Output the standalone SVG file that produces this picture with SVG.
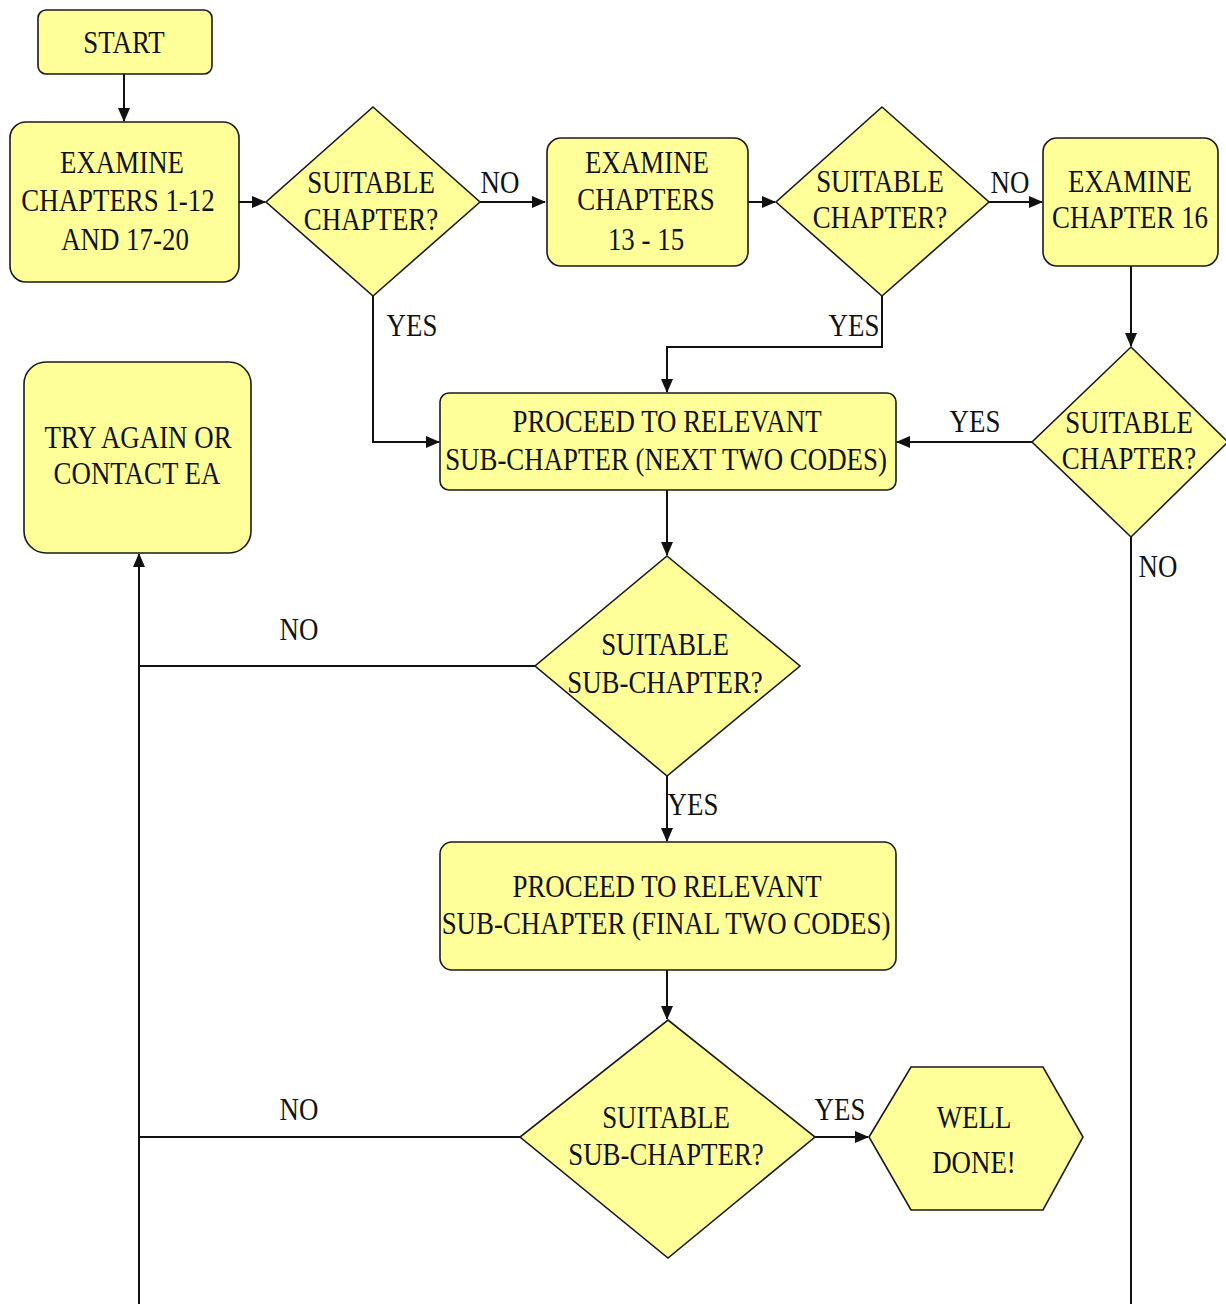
<svg xmlns="http://www.w3.org/2000/svg" width="1226" height="1304" viewBox="0 0 1226 1304">
<style>
.n{fill:#FFFF99;stroke:#1a1a1a;stroke-width:1.6}
.t{font-size:32px;fill:#111;text-anchor:middle}
.c{fill:none;stroke:#111;stroke-width:2}
</style>
<defs>
<marker id="ah" markerUnits="userSpaceOnUse" markerWidth="14" markerHeight="12" refX="13" refY="6" orient="auto">
<path d="M0,0 L14,6 L0,12 Z" fill="#111"/>
</marker>
</defs>
<rect width="1226" height="1304" fill="#fff"/>
<g font-family="'Liberation Serif', 'DejaVu Serif', serif">
<g id="connectors">
<path class="c" d="M124,74 V121" marker-end="url(#ah)"/>
<path class="c" d="M239,202 H265" marker-end="url(#ah)"/>
<path class="c" d="M480,202 H545" marker-end="url(#ah)"/>
<path class="c" d="M748,202 H775" marker-end="url(#ah)"/>
<path class="c" d="M989,202 H1042" marker-end="url(#ah)"/>
<path class="c" d="M1131,266 V346" marker-end="url(#ah)"/>
<path class="c" d="M373,296 V442 H439" marker-end="url(#ah)"/>
<path class="c" d="M882,296 V347 H667 V392" marker-end="url(#ah)"/>
<path class="c" d="M1032,442 H897" marker-end="url(#ah)"/>
<path class="c" d="M1131,537 V1304"/>
<path class="c" d="M667,490 V555" marker-end="url(#ah)"/>
<path class="c" d="M535,666 H139"/>
<path class="c" d="M139,1304 V554" marker-end="url(#ah)"/>
<path class="c" d="M667,776 V841" marker-end="url(#ah)"/>
<path class="c" d="M667,970 V1019" marker-end="url(#ah)"/>
<path class="c" d="M520,1137 H139"/>
<path class="c" d="M815,1137 H868" marker-end="url(#ah)"/>
<g id="labels">
<text class="t" transform="translate(500 193) scale(0.84 1)">NO</text>
<text class="t" transform="translate(1010 193) scale(0.84 1)">NO</text>
<text class="t" transform="translate(412 336) scale(0.84 1)">YES</text>
<text class="t" transform="translate(854 336) scale(0.84 1)">YES</text>
<text class="t" transform="translate(975 432) scale(0.84 1)">YES</text>
<text class="t" transform="translate(1158 577) scale(0.84 1)">NO</text>
<text class="t" transform="translate(299 640) scale(0.84 1)">NO</text>
<text class="t" transform="translate(693 815) scale(0.84 1)">YES</text>
<text class="t" transform="translate(299 1120) scale(0.84 1)">NO</text>
<text class="t" transform="translate(840 1120) scale(0.84 1)">YES</text>
</g>
</g>
<g id="start">
<rect class="n" x="38" y="10" width="174" height="64" rx="8"/>
<text class="t" transform="translate(124 53) scale(0.84 1)">START</text>
</g>
<g id="examine1">
<rect class="n" x="10" y="122" width="229" height="160" rx="16"/>
<text class="t" transform="translate(122 173) scale(0.84 1)">EXAMINE</text>
<text class="t" transform="translate(118 211) scale(0.84 1)">CHAPTERS 1-12</text>
<text class="t" transform="translate(125 250) scale(0.84 1)">AND 17-20</text>
</g>
<g id="decision1">
<polygon class="n" points="373,107 480,202 373,296 266,202"/>
<text class="t" transform="translate(371 193) scale(0.84 1)">SUITABLE</text>
<text class="t" transform="translate(371 230) scale(0.84 1)">CHAPTER?</text>
</g>
<g id="examine2">
<rect class="n" x="547" y="138" width="201" height="128" rx="14"/>
<text class="t" transform="translate(647 173) scale(0.84 1)">EXAMINE</text>
<text class="t" transform="translate(646 210) scale(0.84 1)">CHAPTERS</text>
<text class="t" transform="translate(646 250) scale(0.84 1)">13 - 15</text>
</g>
<g id="decision2">
<polygon class="n" points="882,107 989,202 882,296 776,202"/>
<text class="t" transform="translate(880 192) scale(0.84 1)">SUITABLE</text>
<text class="t" transform="translate(880 228) scale(0.84 1)">CHAPTER?</text>
</g>
<g id="examine3">
<rect class="n" x="1043" y="138" width="175" height="128" rx="14"/>
<text class="t" transform="translate(1130 192) scale(0.84 1)">EXAMINE</text>
<text class="t" transform="translate(1130 228) scale(0.84 1)">CHAPTER 16</text>
</g>
<g id="decision3">
<polygon class="n" points="1131,347 1228,442 1131,537 1032,442"/>
<text class="t" transform="translate(1129 433) scale(0.84 1)">SUITABLE</text>
<text class="t" transform="translate(1129 469) scale(0.84 1)">CHAPTER?</text>
</g>
<g id="proceed1">
<rect class="n" x="440" y="393" width="456" height="97" rx="9"/>
<text class="t" transform="translate(667 432) scale(0.84 1)">PROCEED TO RELEVANT</text>
<text class="t" transform="translate(666 470) scale(0.84 1)">SUB-CHAPTER (NEXT TWO CODES)</text>
</g>
<g id="tryagain">
<rect class="n" x="24" y="362" width="227" height="191" rx="22"/>
<text class="t" transform="translate(138 448) scale(0.84 1)">TRY AGAIN OR</text>
<text class="t" transform="translate(137 484) scale(0.84 1)">CONTACT EA</text>
</g>
<g id="decision4">
<polygon class="n" points="667,556 800,666 667,776 535,666"/>
<text class="t" transform="translate(665 655) scale(0.84 1)">SUITABLE</text>
<text class="t" transform="translate(665 693) scale(0.84 1)">SUB-CHAPTER?</text>
</g>
<g id="proceed2">
<rect class="n" x="440" y="842" width="456" height="128" rx="12"/>
<text class="t" transform="translate(667 897) scale(0.84 1)">PROCEED TO RELEVANT</text>
<text class="t" transform="translate(666 934) scale(0.84 1)">SUB-CHAPTER (FINAL TWO CODES)</text>
</g>
<g id="decision5">
<polygon class="n" points="668,1020 815,1137 668,1258 520,1137"/>
<text class="t" transform="translate(666 1128) scale(0.84 1)">SUITABLE</text>
<text class="t" transform="translate(666 1165) scale(0.84 1)">SUB-CHAPTER?</text>
</g>
<g id="welldone">
<polygon class="n" points="869,1137 911,1067 1043,1067 1083,1137 1043,1210 911,1210"/>
<text class="t" transform="translate(974 1128) scale(0.84 1)">WELL</text>
<text class="t" transform="translate(974 1173) scale(0.84 1)">DONE!</text>
</g>
</g>
</svg>
